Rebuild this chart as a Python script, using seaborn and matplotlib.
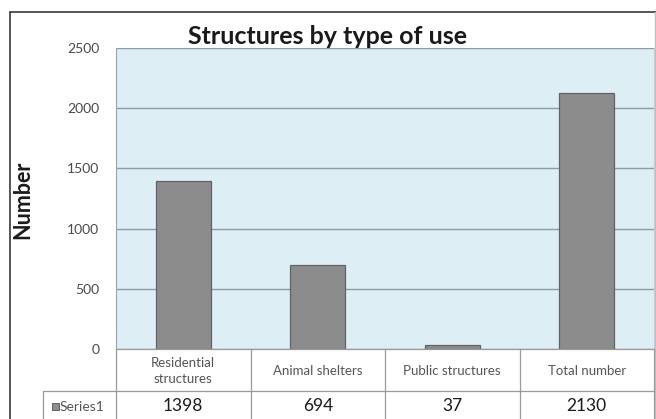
import matplotlib
matplotlib.use("Agg")
import matplotlib.pyplot as plt
from matplotlib.lines import Line2D
from matplotlib.patches import Rectangle
from matplotlib.transforms import blended_transform_factory
import seaborn as sns
import pandas as pd

categories = ["Residential\nstructures", "Animal shelters", "Public structures", "Total number"]
values = [1398, 694, 37, 2130]
series_name = "Series1"
y_ticks = [0, 500, 1000, 1500, 2000, 2500]

sns.set_style("white")
plt.rcParams["font.family"] = ["Lato", "DejaVu Sans"]

W, H = 656, 419
fig = plt.figure(figsize=(W / 100, H / 100), dpi=100)
fig.patch.set_facecolor("white")

# plot area in pixel coordinates
left, right, top, bottom = 116, 654, 48, 349
ax = fig.add_axes([left / W, 1 - bottom / H, (right - left) / W, (bottom - top) / H])
ax.set_facecolor("#deeef5")

df = pd.DataFrame({"category": categories, "value": values})
sns.barplot(data=df, x="category", y="value", ax=ax, color="#8c8c8c",
            width=0.41, edgecolor="#5f6266", linewidth=0.9, saturation=1, zorder=3)

ax.set_ylim(0, 2500)
ax.set_xlim(-0.5, len(categories) - 0.5)
ax.set_yticks(y_ticks)
ax.set_yticklabels([str(t) for t in y_ticks], fontsize=10, color="#4a4a4a")
ax.tick_params(axis="y", length=0, pad=12)
ax.set_xticks([])
ax.set_xlabel("")
ax.set_ylabel("")
ax.yaxis.grid(True, color="#8e9ca3", linewidth=1.0, zorder=1)
ax.set_axisbelow(True)
for side in ["top", "bottom"]:
    ax.spines[side].set_visible(False)
ax.spines["left"].set_color("#9aa3a8")
ax.spines["right"].set_color("#c8cfd3")

# overlay in pixel coordinates for the frame, title and data table
ov = fig.add_axes([0, 0, 1, 1], zorder=5)
ov.set_xlim(0, W)
ov.set_ylim(H, 0)
ov.axis("off")
ov.patch.set_alpha(0)

# outer chart frame
ov.add_line(Line2D([10, W], [12, 12], color="#3a3a3a", linewidth=1.2))
ov.add_line(Line2D([10, 10], [12, H], color="#3a3a3a", linewidth=1.2))
ov.add_line(Line2D([655, 655], [12, H], color="#bfbfbf", linewidth=1.0))

ov.text(328, 36, "Structures by type of use", ha="center", va="center",
        fontsize=18, fontweight="bold", color="#1a1a1a")
ov.text(23, 200, "Number", ha="center", va="center", rotation=90,
        fontsize=15.5, fontweight="bold", color="#1a1a1a")

# data table below the plot area, columns follow the category axis
tr = blended_transform_factory(ax.transData, ov.transData)
n = len(categories)
row1_top, row2_top = bottom, 391
line_kw = dict(color="#9a9a9a", linewidth=0.9)
ov.add_line(Line2D([left, right], [row1_top, row1_top], **line_kw))
ov.add_line(Line2D([43, right], [row2_top, row2_top], **line_kw))
ov.add_line(Line2D([43, 43], [row2_top, H], **line_kw))
for i in range(n + 1):
    ov.add_line(Line2D([i - 0.5, i - 0.5], [row1_top, H], transform=tr, **line_kw))
for i, (cat, val) in enumerate(zip(categories, values)):
    ov.text(i, (row1_top + row2_top) / 2 + 1, cat, transform=tr, ha="center", va="center",
            fontsize=9.5, color="#555555", linespacing=1.35)
    ov.text(i, 406, str(val), transform=tr, ha="center", va="center",
            fontsize=12.5, color="#1a1a1a")

ov.add_patch(Rectangle((52, 403), 7, 7, facecolor="#8c8c8c", edgecolor="#5f6266", linewidth=0.7))
ov.text(60, 406.5, series_name, ha="left", va="center", fontsize=10, color="#555555")

fig.savefig("out.png", dpi=100)
